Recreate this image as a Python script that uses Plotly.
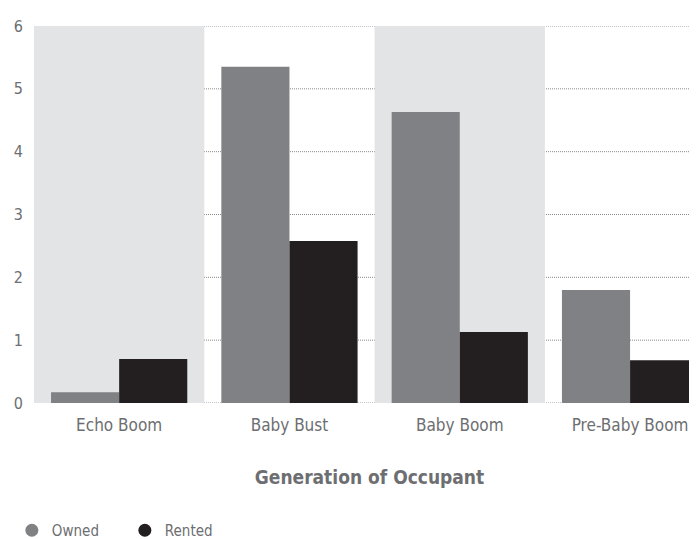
import plotly.graph_objects as go

categories = ["Echo Boom", "Baby Bust", "Baby Boom", "Pre-Baby Boom"]
owned = [0.17, 5.35, 4.63, 1.80]
rented = [0.70, 2.58, 1.13, 0.68]
y_ticks = [0, 1, 2, 3, 4, 5, 6]
shaded = ["Echo Boom", "Baby Boom"]

FONT = "Liberation Sans Narrow, DejaVu Sans Condensed, Arial Narrow, sans-serif"
TXT = "#6d6e71"
C_OWN = "#808184"
C_RENT = "#231f20"

fig = go.Figure()
fig.add_trace(go.Bar(x=categories, y=owned, name="Owned", marker_color=C_OWN,
                     marker_line_width=0, showlegend=False))
fig.add_trace(go.Bar(x=categories, y=rented, name="Rented", marker_color=C_RENT,
                     marker_line_width=0, showlegend=False))
# legend entries with circular markers
fig.add_trace(go.Scatter(x=[None], y=[None], mode="markers", name="Owned",
                         marker=dict(symbol="circle", size=13, color=C_OWN)))
fig.add_trace(go.Scatter(x=[None], y=[None], mode="markers", name="Rented",
                         marker=dict(symbol="circle", size=13, color=C_RENT)))

for c in shaded:
    i = categories.index(c)
    fig.add_shape(type="rect", xref="x", yref="y", x0=i - 0.5, x1=i + 0.5, y0=0, y1=6,
                  fillcolor="#e3e4e6", line_width=0, layer="between")
# dotted grid lines drawn above the shading but below the bars
for v in y_ticks:
    fig.add_shape(type="line", xref="paper", yref="y", x0=0, x1=1, y0=v, y1=v,
                  line=dict(color="#8a8a8a", width=1, dash="1px,1px"), layer="between")

fig.update_layout(
    width=697, height=539,
    margin=dict(l=26, r=0, t=18, b=144),
    paper_bgcolor="white", plot_bgcolor="white",
    barmode="group", bargap=0.2, bargroupgap=0,
    font=dict(family=FONT, color=TXT, size=16),
    xaxis=dict(
        type="category", range=[-0.5, 3.44], automargin=False,
        showgrid=False, zeroline=False, showline=False, ticks="",
        tickfont=dict(size=17, color=TXT), ticklabelstandoff=10,
        title=dict(text="<b>Generation of Occupant</b>", font=dict(size=19, color=TXT), standoff=36),
    ),
    yaxis=dict(
        range=[0, 6], tickvals=y_ticks, showgrid=False,
        zeroline=False, showline=False, ticks="", automargin=False,
        tickfont=dict(size=16, color=TXT), ticklabelstandoff=10,
    ),
    legend=dict(orientation="h", x=-0.033, xanchor="left", y=-0.295, yanchor="top",
                font=dict(size=15, color=TXT), itemsizing="trace",
                entrywidth=68, entrywidthmode="pixels"),
)

fig.write_html("out.html")
